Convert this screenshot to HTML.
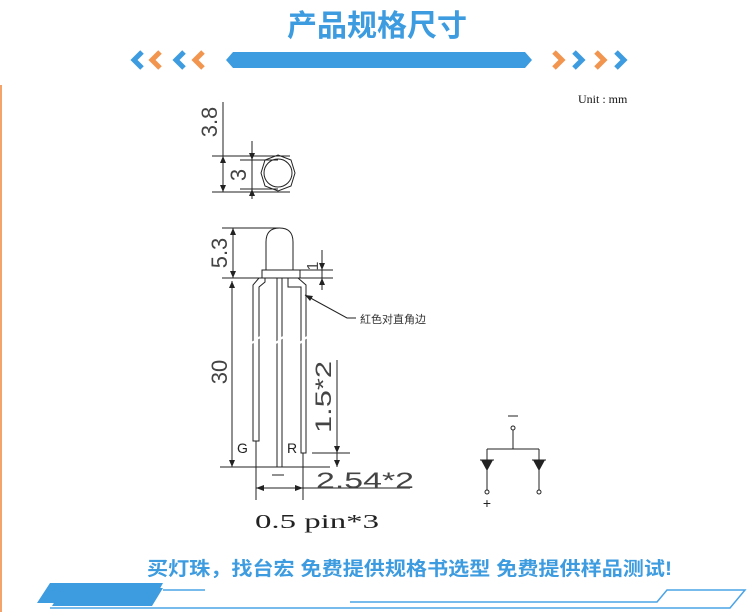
<!DOCTYPE html>
<html><head><meta charset="utf-8"><style>
html,body{margin:0;padding:0;background:#fff;width:747px;height:612px;overflow:hidden}
svg{display:block}
</style></head><body>
<svg width="747" height="612" viewBox="0 0 747 612" xmlns="http://www.w3.org/2000/svg">
<rect x="0" y="85" width="2" height="527" fill="#f2a46a"/>
<text x="377" y="36" text-anchor="middle" font-family="Liberation Sans,Noto Sans CJK SC,sans-serif" font-weight="bold" font-size="30" fill="#3d9be0">产品规格尺寸</text>
<polygon points="226,60 233,52 525,52 532,60 525,68 233,68" fill="#3d9be0"/>
<g stroke-width="5" fill="none" stroke-linejoin="miter">
<polyline points="142,52 134,60 142,68" stroke="#3d9be0"/>
<polyline points="160,52 152,60 160,68" stroke="#f2954f"/>
<polyline points="184,52 176,60 184,68" stroke="#3d9be0"/>
<polyline points="203,52 195,60 203,68" stroke="#f2954f"/>
<polyline points="554,52 562,60 554,68" stroke="#f2954f"/>
<polyline points="574,52 582,60 574,68" stroke="#3d9be0"/>
<polyline points="596,52 604,60 596,68" stroke="#f2954f"/>
<polyline points="616,52 624,60 616,68" stroke="#3d9be0"/>
</g>
<text x="578" y="103" font-family="Liberation Serif,serif" font-size="12" fill="#111">Unit : mm</text>
<g stroke="#222" stroke-width="1" fill="none">
<line x1="223" y1="102" x2="223" y2="192"/>
<line x1="212" y1="156" x2="290" y2="156"/>
<line x1="212" y1="192" x2="290" y2="192"/>
<line x1="252" y1="141" x2="252" y2="199"/>
<line x1="240" y1="160" x2="278" y2="160"/>
<line x1="240" y1="189" x2="278" y2="189"/>
<polygon points="278,155 291,160 295,173 291,186 278,191 265,186 261,173 265,160"/>
<circle cx="278" cy="173" r="14"/>
<line x1="222" y1="228" x2="280" y2="228"/>
<line x1="222" y1="278" x2="262" y2="278"/>
<line x1="233" y1="228" x2="233" y2="278"/>
<path d="M266,270 L266,242 Q266,228 279.5,228 Q293,228 293,242 L293,270"/>
<rect x="262" y="270" width="38" height="8"/>
<line x1="300" y1="270" x2="333" y2="270"/>
<line x1="300" y1="278" x2="333" y2="278"/>
<line x1="322" y1="250" x2="322" y2="290"/>
<line x1="232" y1="281" x2="232" y2="467"/>
<line x1="220" y1="467" x2="330" y2="467"/>
<path d="M265,278 L265,282 L259,287 L259,441 L253,441 L253,285 L259,278"/>
<path d="M277,278 L277,467 L282,467 L282,278"/>
<path d="M288,278 L288,287 L301,287 L301,453 L306,453 L306,285 L298,278"/>
<line x1="337" y1="360" x2="337" y2="467"/>
<line x1="312" y1="453" x2="350" y2="453"/>
<line x1="256" y1="441" x2="256" y2="500"/>
<line x1="303" y1="453" x2="303" y2="500"/>
<line x1="256" y1="488" x2="410" y2="488"/>
<line x1="272" y1="475" x2="284" y2="475"/>
<path d="M305,295 L347,318 L356,318"/>
<line x1="513" y1="430" x2="513" y2="449"/>
<line x1="487" y1="449" x2="539" y2="449"/>
<line x1="487" y1="449" x2="487" y2="490"/>
<line x1="539" y1="449" x2="539" y2="490"/>
<line x1="480" y1="460" x2="494" y2="460"/>
<line x1="532" y1="460" x2="546" y2="460"/>
<circle cx="513" cy="428" r="2"/>
<circle cx="487" cy="492" r="2"/>
<circle cx="539" cy="492" r="2"/>
<line x1="508" y1="416" x2="518" y2="416"/>
</g>
<g stroke="#fff" stroke-width="2">
<line x1="252" y1="343" x2="260" y2="337"/><line x1="276" y1="343" x2="283" y2="337"/><line x1="300" y1="343" x2="307" y2="337"/>
</g>
<g fill="#222">
<polygon points="223,156 220,163 226,163"/><polygon points="223,192 220,185 226,185"/>
<polygon points="252,160 249,153 255,153"/><polygon points="252,189 249,196 255,196"/>
<polygon points="233,228 230,235 236,235"/><polygon points="233,278 230,271 236,271"/>
<polygon points="322,270 319,263 325,263"/><polygon points="322,278 319,285 325,285"/>
<polygon points="232,467 229,460 235,460"/><polygon points="232,281 229,288 235,288"/>
<polygon points="337,453 334,446 340,446"/><polygon points="337,467 334,460 340,460"/>
<polygon points="256,488 264,485 264,491"/><polygon points="303,488 295,485 295,491"/>
<polygon points="305,295 313,296 310,301"/>
<polygon points="481,460 493,460 487,471"/><polygon points="533,460 545,460 539,471"/>
</g>
<g font-family="Liberation Sans,sans-serif" font-size="22" fill="#444">
<text transform="translate(217,122) rotate(-90)" text-anchor="middle">3.8</text>
<text transform="translate(246,175) rotate(-90)" text-anchor="middle">3</text>
<text transform="translate(227,253) rotate(-90)" text-anchor="middle">5.3</text>
<text transform="translate(318,266) rotate(-90)" font-size="16" text-anchor="middle">1</text>
<text transform="translate(227,372) rotate(-90)" text-anchor="middle">30</text>
<text transform="translate(331,397) rotate(-90)" text-anchor="middle" textLength="72" lengthAdjust="spacingAndGlyphs">1.5*2</text>
<text x="316" y="488" textLength="98" lengthAdjust="spacingAndGlyphs">2.54*2</text>
</g>
<text x="237" y="453" font-family="Liberation Sans,sans-serif" font-size="14" fill="#222">G</text>
<text x="287" y="453" font-family="Liberation Sans,sans-serif" font-size="14" fill="#222">R</text>
<text x="255" y="528" font-family="Liberation Serif,serif" font-size="20" fill="#222" textLength="124" lengthAdjust="spacingAndGlyphs">0.5 pin*3</text>
<text x="360" y="323" font-family="Liberation Sans,Noto Sans CJK SC,sans-serif" font-size="11" fill="#333">紅色对直角边</text>
<text x="487" y="508" text-anchor="middle" font-family="Liberation Sans,sans-serif" font-size="14" fill="#222">+</text>
<text x="147" y="575" font-family="Liberation Sans,Noto Sans CJK SC,sans-serif" font-weight="bold" font-size="19" fill="#3d9be0" textLength="525" lengthAdjust="spacingAndGlyphs">买灯珠，找台宏 免费提供规格书选型 免费提供样品测试!</text>
<polygon points="50,583 163,583 152,603 37,603" fill="#3d9be0"/>
<polygon points="63,588 163,588 152,606 52,606" fill="#3d9be0"/>
<g stroke="#4aa3e6" stroke-width="1.5" fill="none">
<line x1="163" y1="590" x2="205" y2="590"/>
<polyline points="50,608 730,608 745,590 667,590 657,602 350,602"/>
</g>
</svg>
</body></html>
